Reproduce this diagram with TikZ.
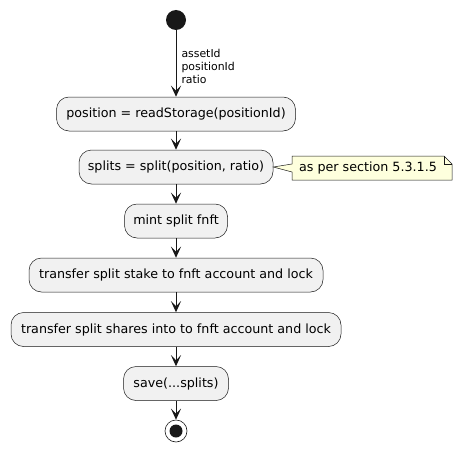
\documentclass[tikz,border=0pt]{standalone}
\usepackage{fontspec}
\setmainfont{DejaVu Sans}
\usetikzlibrary{arrows.meta}
\definecolor{boxfill}{HTML}{F1F1F1}
\definecolor{ink}{HTML}{181818}
\definecolor{notefill}{HTML}{FEFFDD}
\begin{document}
\begin{tikzpicture}[x=1pt,y=-1pt,
  act/.style={draw=ink,fill=boxfill,line width=0.5pt,rounded corners=12.5pt,minimum height=34pt,inner sep=0pt,font=\fontsize{12.7}{15}\selectfont},
  flow/.style={draw=ink,line width=1pt,-{Stealth[length=11pt,width=10pt,inset=5pt]}},
  lbl/.style={font=\fontsize{10.9}{12.6}\selectfont,align=left,inner sep=0pt}]
\useasboundingbox[fill=white] (0,0) rectangle (462,452);
\node[circle,fill=ink,minimum size=20pt,inner sep=0pt] (start) at (176,20) {};
\node[act,minimum width=239pt] (b1) at (176,114) {position = readStorage(positionId)};
\node[act,minimum width=194pt] (b2) at (176,167) {splits = split(position, ratio)};
\node[act,minimum width=103pt] (b3) at (176,221) {mint split fnft};
\node[act,minimum width=294pt] (b4) at (176,275) {transfer split stake to fnft account and lock};
\node[act,minimum width=330pt] (b5) at (176,329.5) {transfer split shares into to fnft account and lock};
\node[act,minimum width=105pt] (b6) at (176,383.5) {save(...splits)};
\node[circle,draw=ink,line width=0.6pt,fill=white,minimum size=22pt,inner sep=0pt] (stop) at (176,431) {};
\node[circle,fill=ink,minimum size=13pt,inner sep=0pt] (stopin) at (stop.center) {};
% note
\coordinate (n1) at (292,156);
\coordinate (n2) at (444,156);
\coordinate (n3) at (452,164);
\coordinate (n4) at (452,180);
\coordinate (n5) at (292,180);
\coordinate (p1) at (292,164);
\coordinate (p2) at (292,172);
\filldraw[draw=ink,fill=notefill,line width=0.5pt] (n1) -- (n2) -- (n3) -- (n4) -- (n5) -- (p2) -- (b2.east) -- (p1) -- cycle;
\draw[draw=ink,line width=0.5pt] (n2) -- (444,164) -- (n3);
\node[font=\fontsize{12.7}{15}\selectfont,inner sep=0pt] (note) at (368,168) {as per section 5.3.1.5};
% flows
\draw[flow] (start) -- (b1.north) node[pos=0.5,lbl,anchor=west,xshift=5pt,yshift=-3pt] (args) {assetId\\positionId\\ratio};
\draw[flow] (b1) -- (b2);
\draw[flow] (b2) -- (b3);
\draw[flow] (b3) -- (b4);
\draw[flow] (b4) -- (b5);
\draw[flow] (b5) -- (b6);
\draw[flow] (b6) -- (stop);
\end{tikzpicture}
\end{document}
